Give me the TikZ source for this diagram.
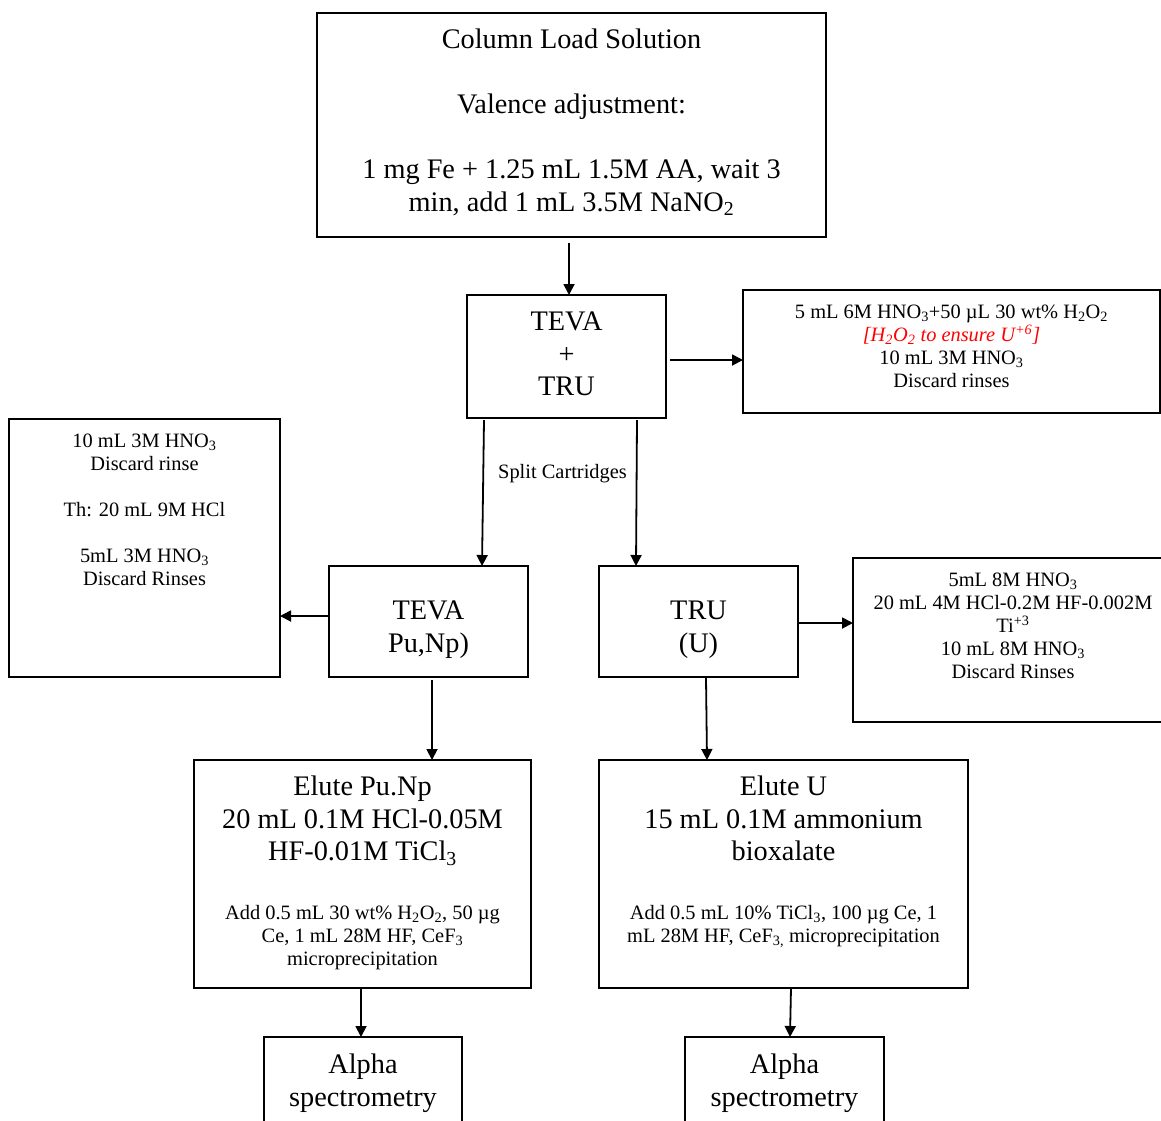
\documentclass[tikz,border=0pt]{standalone}
\usepackage{fontspec}
\setmainfont{Liberation Serif}
\usetikzlibrary{arrows.meta}
\begin{document}
\begin{tikzpicture}[x=1pt,y=-1pt,
  box/.style={draw,line width=1.3pt,inner sep=0pt,outer sep=0pt,rectangle},
  bigtxt/.style={font=\fontsize{28.3}{32.5}\selectfont,align=center,inner sep=0pt,anchor=north},
  smalltxt/.style={font=\fontsize{20.4}{23}\selectfont,align=center,inner sep=0pt,anchor=north},
  arr/.style={line width=1.8pt,-{Triangle[length=11pt,width=11pt]}}]
\useasboundingbox (0,0) rectangle (1161,1120);
\clip (0,0) rectangle (1161,1120);
\fill[white] (0,0) rectangle (1161,1120);
% boxes
\node[box,minimum width=509,minimum height=224] (col) at (571.5,125) {};
\node[box,minimum width=199,minimum height=123] (tevatru) at (566.5,356.5) {};
\node[box,minimum width=417,minimum height=123] (rtop) at (951.5,351.5) {};
\node[box,minimum width=271,minimum height=258] (lbox) at (144.5,548) {};
\node[box,minimum width=199,minimum height=111] (tevapu) at (428.5,621.5) {};
\node[box,minimum width=199,minimum height=111] (tru) at (698.5,621.5) {};
\node[box,minimum width=320,minimum height=164] (rmid) at (1013,640) {};
\node[box,minimum width=337,minimum height=228] (elutepu) at (362.5,874) {};
\node[box,minimum width=369,minimum height=228] (eluteu) at (783.5,874) {};
\node[box,minimum width=198,minimum height=100] (alphaA) at (363,1087) {};
\node[box,minimum width=199,minimum height=100] (alphaB) at (784.5,1087) {};
% texts
\node[bigtxt] (tcol) at (571.5,29) {Column Load Solution\\[32.5pt]Valence adjustment:\\[32.5pt]1 mg Fe + 1.25 mL 1.5M AA, wait 3\\min, add 1 mL 3.5M NaNO\textsubscript{2}};
\node[bigtxt] (ttevatru) at (566.5,312) {TEVA\\+\\TRU};
\node[smalltxt] (trtop) at (951.5,305) {5 mL 6M HNO\textsubscript{3}+50 µL 30 wt\% H\textsubscript{2}O\textsubscript{2}\\\textcolor{red}{\itshape [H\textsubscript{2}O\textsubscript{2} to ensure U\textsuperscript{+6}]}\\10 mL 3M HNO\textsubscript{3}\\Discard rinses};
\node[smalltxt] (tlbox) at (144.5,434) {10 mL 3M HNO\textsubscript{3}\\Discard rinse\\[23pt]Th: 20 mL 9M HCl\\[23pt]5mL 3M HNO\textsubscript{3}\\Discard Rinses};
\node[bigtxt] (ttevapu) at (428.5,601) {TEVA\\Pu,Np)};
\node[bigtxt] (ttru) at (698.5,601) {TRU\\(U)};
\node[smalltxt] (trmid) at (1013,573) {5mL 8M HNO\textsubscript{3}\\20 mL 4M HCl-0.2M HF-0.002M\\Ti\textsuperscript{+3}\\10 mL 8M HNO\textsubscript{3}\\Discard Rinses};
\node[bigtxt] (telutepu) at (362.5,776) {Elute Pu.Np\\20 mL 0.1M HCl-0.05M\\HF-0.01M TiCl\textsubscript{3}};
\node[smalltxt] (telutepus) at (362.5,905) {Add 0.5 mL 30 wt\% H\textsubscript{2}O\textsubscript{2}, 50 µg\\Ce, 1 mL 28M HF, CeF\textsubscript{3}\\microprecipitation};
\node[bigtxt] (teluteu) at (783.5,776) {Elute U\\15 mL 0.1M ammonium\\bioxalate};
\node[smalltxt] (teluteus) at (783.5,905) {Add 0.5 mL 10\% TiCl\textsubscript{3}, 100 µg Ce, 1\\mL 28M HF, CeF\textsubscript{3,} microprecipitation};
\node[bigtxt] (talphaA) at (363,1054) {Alpha\\spectrometry};
\node[bigtxt] (talphaB) at (784.5,1054) {Alpha\\spectrometry};
\node[smalltxt,anchor=center] (tsplit) at (562.5,474) {Split Cartridges};
% connectors
\draw[arr] ([xshift=-2.5pt,yshift=-6pt]col.south) -- ([xshift=2.5pt]tevatru.north);
\draw[arr] ([xshift=4pt,yshift=-3.5pt]tevatru.east) -- ([yshift=-8.5pt]rtop.west);
\draw[arr] ([xshift=-82.5pt,yshift=-2pt]tevatru.south) -- ([xshift=53.5pt]tevapu.north);
\draw[arr] ([xshift=70.5pt,yshift=-2pt]tevatru.south) -- ([xshift=-62.5pt]tru.north);
\draw[arr] ([yshift=5.5pt]tevapu.west) -- ([yshift=-68pt]lbox.east);
\draw[arr] ([yshift=-1.5pt]tru.east) -- ([yshift=17pt]rmid.west);
\draw[arr] ([xshift=3.5pt,yshift=-3pt]tevapu.south) -- ([xshift=69.5pt]elutepu.north);
\draw[arr] ([xshift=7.5pt,yshift=-1pt]tru.south) -- ([xshift=-76.5pt]eluteu.north);
\draw[arr] ([xshift=-1.5pt]elutepu.south) -- ([xshift=-2pt]alphaA.north);
\draw[arr] ([xshift=7.5pt]eluteu.south) -- ([xshift=5.5pt]alphaB.north);
\end{tikzpicture}
\end{document}
